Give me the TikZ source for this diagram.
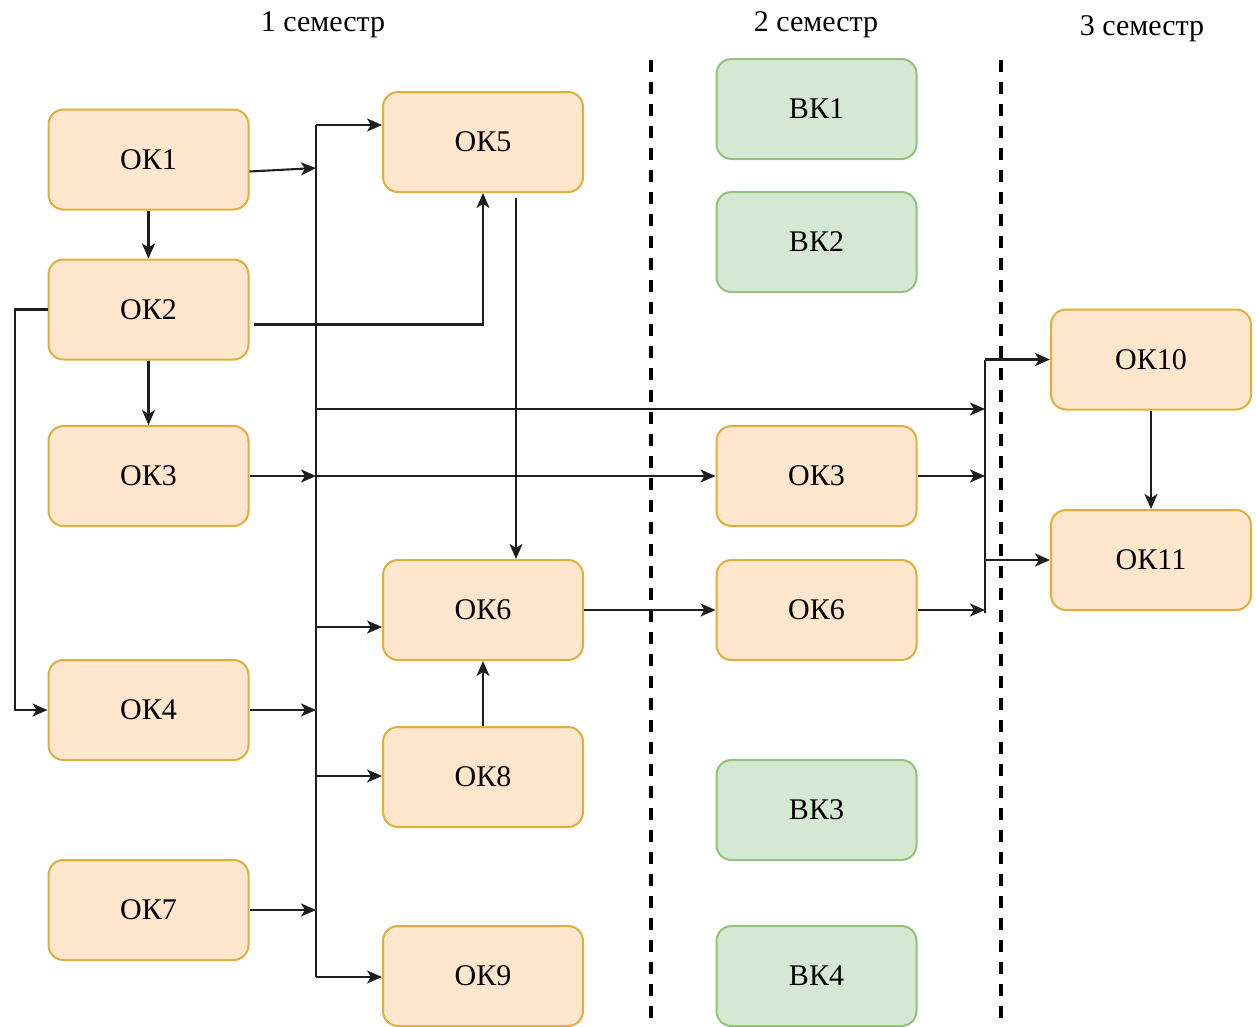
\documentclass[tikz,border=0pt]{standalone}
\usepackage{fontspec}
\setmainfont{Liberation Serif}
\usetikzlibrary{arrows.meta}
\definecolor{okfill}{HTML}{FFE6CC}
\definecolor{okdraw}{HTML}{E0AE3C}
\definecolor{vkfill}{HTML}{D5E8D4}
\definecolor{vkdraw}{HTML}{93C27B}
\definecolor{ln}{HTML}{1E1E1E}
\tikzset{
  box/.style={rounded corners=15pt, minimum width=200pt, minimum height=100pt, line width=2pt,
    font=\fontsize{30}{36}\selectfont, inner sep=0pt},
  okbox/.style={box, fill=okfill, draw=okdraw},
  vkbox/.style={box, fill=vkfill, draw=vkdraw},
  arr/.style={draw=ln, line width=2.1pt, -{Stealth[length=15pt,width=13pt,inset=4pt]}},
  ln/.style={draw=ln, line width=2.1pt},
  sep/.style={draw=black, line width=4pt, dash pattern=on 12pt off 10pt},
  ttl/.style={font=\fontsize{30}{36}\selectfont}
}
\begin{document}
\begin{tikzpicture}[x=1pt,y=-1pt]
\useasboundingbox (0,0) rectangle (1256,1026);
% titles
\node[ttl] (t1) at (323,25) {1 семестр};
\node[ttl] (t2) at (816,25) {2 семестр};
\node[ttl] (t3) at (1142,29) {3 семестр};
% separators
\coordinate (s1a) at (651,60); \coordinate (s1b) at (651,1030);
\coordinate (s2a) at (1001,60); \coordinate (s2b) at (1001,1030);
\draw[sep] (s1a) -- (s1b);
\draw[sep] (s2a) -- (s2b);
% semester 1 left column
\node[okbox] (ok1) at (148.5,159.5) {ОК1};
\node[okbox] (ok2) at (148.5,309.5) {ОК2};
\node[okbox] (ok3) at (148.5,476) {ОК3};
\node[okbox] (ok4) at (148.5,710) {ОК4};
\node[okbox] (ok7) at (148.5,910) {ОК7};
% semester 1 right column
\node[okbox] (ok5) at (483,142) {ОК5};
\node[okbox] (ok6) at (483,610) {ОК6};
\node[okbox] (ok8) at (483,777) {ОК8};
\node[okbox] (ok9) at (483,976) {ОК9};
% semester 2
\node[vkbox] (vk1) at (816.5,109) {ВК1};
\node[vkbox] (vk2) at (816.5,242) {ВК2};
\node[okbox] (ok3b) at (816.5,476) {ОК3};
\node[okbox] (ok6b) at (816.5,610) {ОК6};
\node[vkbox] (vk3) at (816.5,810) {ВК3};
\node[vkbox] (vk4) at (816.5,976) {ВК4};
% semester 3
\node[okbox] (ok10) at (1151,359.5) {ОК10};
\node[okbox] (ok11) at (1151,560) {ОК11};
% bus coordinates
\coordinate (bt) at (316,125);
\coordinate (bb) at (316,977);
\coordinate (b1) at (316,168);
\coordinate (b3) at (316,476);
\coordinate (b409) at (316,409);
\coordinate (b6) at (316,627);
\coordinate (b4) at (316,710);
\coordinate (b8) at (316,776);
\coordinate (b7) at (316,910);
\coordinate (rt) at (985,359.5);
\coordinate (rb) at (985,613);
\coordinate (r409) at (985,409);
\coordinate (r3) at (985,476);
\coordinate (r11) at (985,560);
\coordinate (r6) at (985,610);
\coordinate (lft) at (15,309.5);
% main bus
\draw[ln] (bt) -- (bb);
\draw[arr] (bt) -- (bt -| ok5.west);
\draw[arr] (bb) -- (bb -| ok9.west);
\draw[arr] ([yshift=-12pt]ok1.east) -- (b1);
\draw[arr] (ok1) -- (ok2);
\draw[arr] (ok2) -- (ok3);
\draw[arr] ([xshift=4pt,yshift=-15pt]ok2.east) -| (ok5.south);
\draw[arr] (ok2.west) -- (lft) |- (ok4.west);
\draw[arr] (ok3.east) -- (b3);
\draw[arr] (b3) -- (ok3b.west);
\draw[arr] (b409) -- (r409);
\draw[arr] ([xshift=33pt,yshift=-5pt]ok5.south) -- ([xshift=33pt]ok6.north);
\draw[arr] (b6) -- (b6 -| ok6.west);
\draw[arr] (ok6.east) -- (ok6b.west);
\draw[arr] (ok4.east) -- (b4);
\draw[arr] (b8) -- (b8 -| ok8.west);
\draw[arr] (ok8) -- (ok6);
\draw[arr] (ok7.east) -- (b7);
% right bus
\draw[ln] (rt) -- (rb);
\draw[arr] (rt) -- (ok10.west);
\draw[arr] (r11) -- (ok11.west);
\draw[arr] (ok3b.east) -- (r3);
\draw[arr] (ok6b.east) -- (r6);
\draw[arr] (ok10) -- (ok11);
\end{tikzpicture}
\end{document}
